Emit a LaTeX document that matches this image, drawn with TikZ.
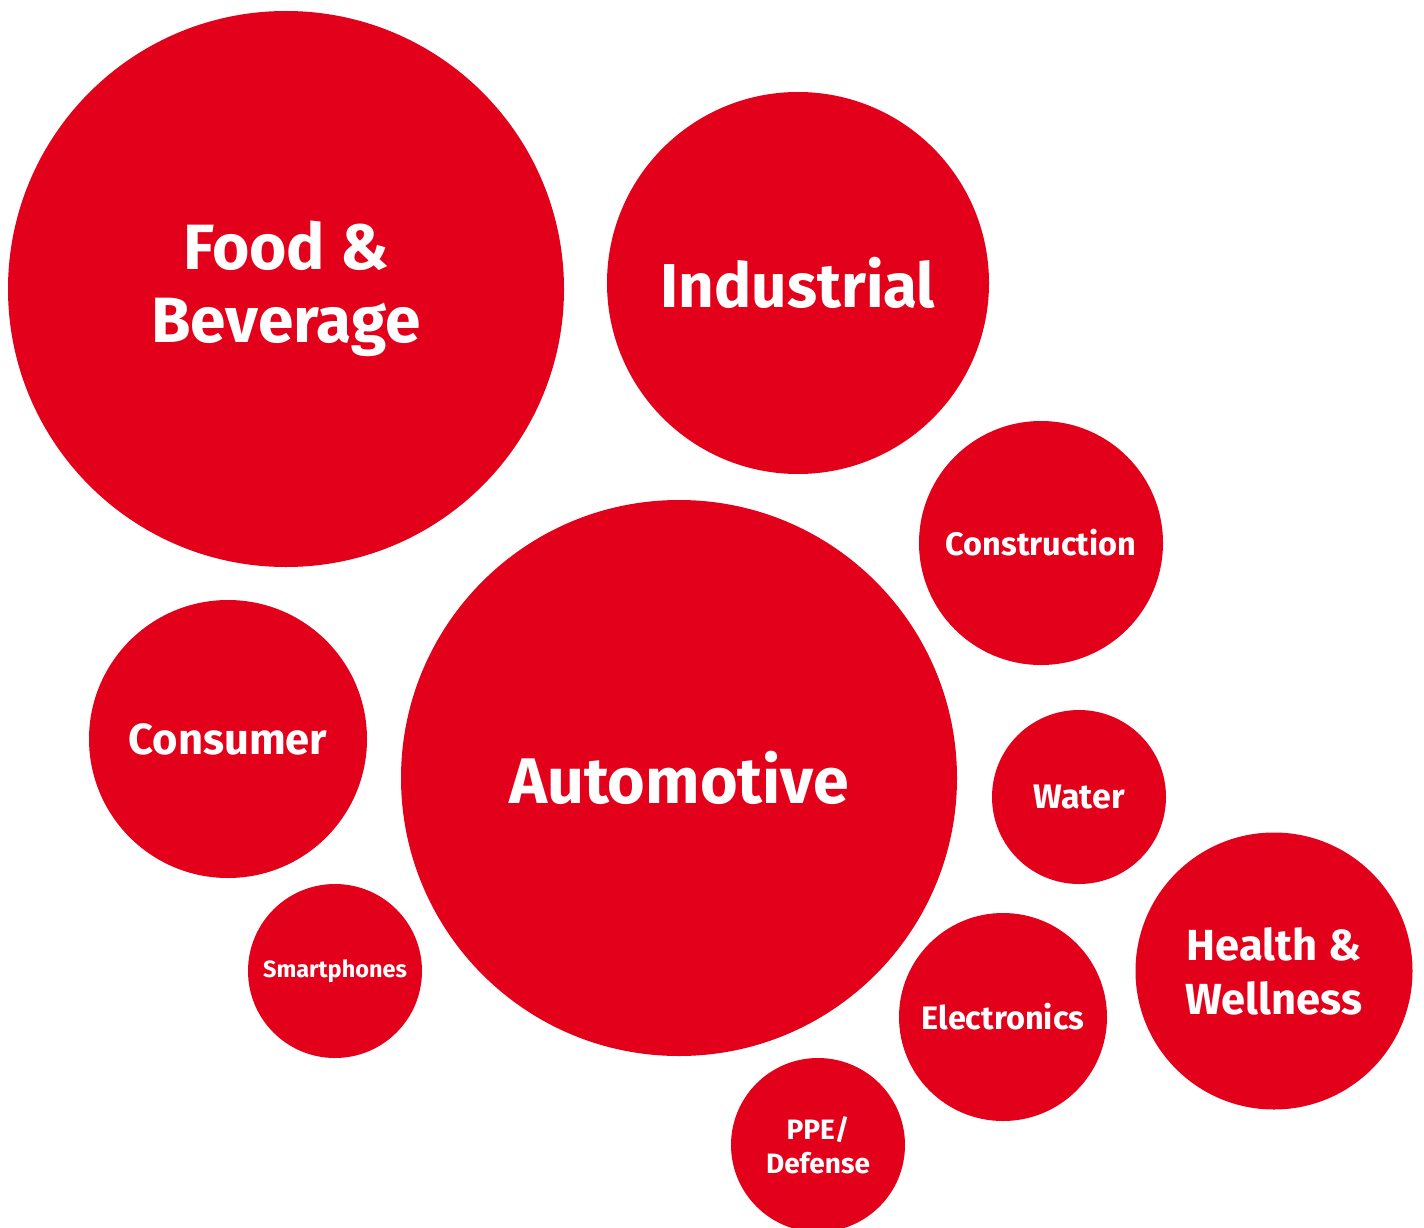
\documentclass[tikz,border=0pt]{standalone}
\usepackage{fontspec}
\setmainfont{Fira Sans}
\usetikzlibrary{positioning}
\definecolor{brandred}{HTML}{E3001B}
\tikzset{bubble/.style={
            circle,
            fill=brandred,
            text=white,
            inner sep=0pt,
            align=center,
            font=\bfseries
        },
        bubbletext/.style 2 args={
            font=\fontsize{#1}{#2}\selectfont\bfseries
        }
    }

\begin{document}
\begin{tikzpicture}[x=1pt,y=-1pt]
        \useasboundingbox (0,0) rectangle (1424,1228);

        \node[bubble,minimum size=556pt,bubbletext={64}{73}] (food) at (286,289) {Food \&\\Beverage};
        \node[bubble,minimum size=382pt,bubbletext={62}{70}] (industrial) at (798,283) {Industrial};
        \node[bubble,minimum size=244pt,bubbletext={32.5}{40}] (construction) at (1041,543) {Construction};
        \node[bubble,minimum size=278pt,bubbletext={43.5}{54}] (consumer) at (228,739) {Consumer};
        \node[bubble,minimum size=556pt,bubbletext={64.5}{73}] (automotive) at (679,778) {Automotive};
        \node[bubble,minimum size=174pt,bubbletext={34}{40}] (water) at (1079,797) {Water};
        \node[bubble,minimum size=277pt,bubbletext={43.5}{54}] (health) at (1274,971) {Health \&\\Wellness};
        \node[bubble,minimum size=208pt,bubbletext={32.5}{40}] (electronics) at (1003,1017) {Electronics};
        \node[bubble,minimum size=174pt,bubbletext={23.5}{30}] (smartphones) at (335,971) {Smartphones};
        \node[bubble,minimum size=174pt,bubbletext={28}{34}] (ppe) at (818,1145) {PPE/\\Defense};

    \end{tikzpicture}
\end{document}
